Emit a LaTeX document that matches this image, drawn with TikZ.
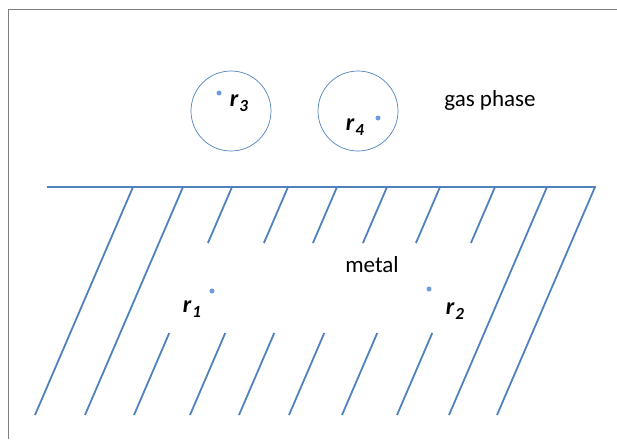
\documentclass[tikz,border=0pt]{standalone}
\usepackage{fontspec}
\setmainfont{Carlito}
\definecolor{metalblue}{HTML}{4F81BD}
\definecolor{dotblue}{HTML}{6F9BE0}
\definecolor{framegray}{HTML}{7F7F7F}
\tikzset{
  hatch/.style={draw=metalblue, line width=1.8pt},
  bubble/.style={draw=metalblue, line width=0.7pt, circle, minimum size=80pt, inner sep=0pt},
  site/.style={circle, fill=dotblue, inner sep=0pt, minimum size=5pt},
  sitelabel/.style={font=\fontsize{24}{28}\selectfont\bfseries\itshape, inner sep=0pt},
  plain/.style={font=\fontsize{23}{28}\selectfont, inner sep=0pt},
  frameline/.style={draw=framegray, line width=1pt}
}
\newcommand{\rlab}[1]{r\kern1pt\raisebox{-5pt}{\fontsize{17}{20}\selectfont #1}}
\begin{document}
\begin{tikzpicture}[x=1pt,y=-1pt]
\useasboundingbox (0,0) rectangle (617,439);
% frame
\coordinate (fa) at (8,439);
\coordinate (fb) at (8,9);
\coordinate (fc) at (617,9);
\draw[frameline] (fa) -- (fb) -- (fc);
% gas phase bubbles
\node[bubble] (c3) at (231,111) {};
\node[bubble] (c4) at (358,111) {};
\node[site] (d3) at (219,93) {};
\node[site] (d4) at (378,118) {};
\node[sitelabel] (l3) at (239,103) {\rlab{3}};
\node[sitelabel] (l4) at (355,127) {\rlab{4}};
\node[plain] (gas) at (490,100) {gas phase};
% metal surface
\coordinate (s1) at (47,187);
\coordinate (s2) at (596,187);
\draw[hatch, line width=2.2pt] (s1) -- (s2);
\foreach \xt in {133,183,547,595}{
  \draw[hatch] (\xt,187) -- (\xt-98,415);
}
\foreach \xt in {232,288,337,387,440,495}{
  \draw[hatch] (\xt,187) -- (\xt-24.07,243);
  \draw[hatch] (\xt-62.75,333) -- (\xt-98,415);
}
\node[plain] (metal) at (372,265) {metal};
\node[site] (d1) at (212,291) {};
\node[site] (d2) at (429,289) {};
\node[sitelabel] (l1) at (192,309) {\rlab{1}};
\node[sitelabel] (l2) at (455,311) {\rlab{2}};
\end{tikzpicture}
\end{document}
